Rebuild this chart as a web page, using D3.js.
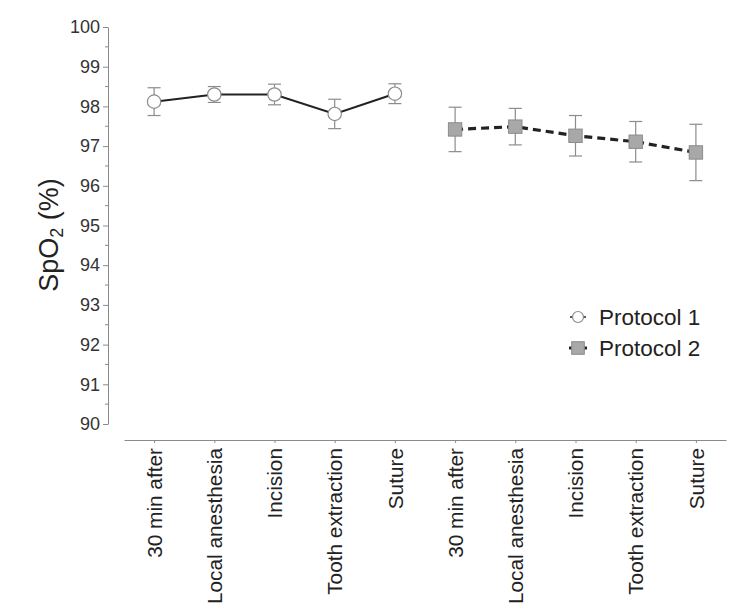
<!DOCTYPE html>
<html>
<head>
<meta charset="utf-8">
<script src="https://cdn.jsdelivr.net/npm/d3@7"></script>
<style>
  html, body { margin: 0; padding: 0; background: #fff; }
  svg { display: block; font-family: "Liberation Sans", Arial, sans-serif; }
</style>
</head>
<body>
<svg id="chart" width="745" height="612"></svg>
<script>
// ---- data ----
const categories = ["30 min after", "Local anesthesia", "Incision", "Tooth extraction", "Suture",
                    "30 min after", "Local anesthesia", "Incision", "Tooth extraction", "Suture"];
const protocol1Idx = [0, 1, 2, 3, 4];
const protocol1 = [98.12, 98.30, 98.30, 97.81, 98.32];
const protocol1Err = [0.35, 0.20, 0.26, 0.37, 0.25];
const protocol2Idx = [5, 6, 7, 8, 9];
const protocol2 = [97.42, 97.49, 97.26, 97.11, 96.84];
const protocol2Err = [0.56, 0.46, 0.51, 0.51, 0.71];
const yTicks = [90, 91, 92, 93, 94, 95, 96, 97, 98, 99, 100];
const yMinorTicks = [90.5, 91.5, 92.5, 93.5, 94.5, 95.5, 96.5, 97.5, 98.5, 99.5];
const seriesNames = ["Protocol 1", "Protocol 2"];

// ---- layout ----
const svg = d3.select("#chart");
const axisColor = "#8a8a8a";
const textColor = "#222";

const x = d3.scalePoint().domain(d3.range(categories.length)).range([124, 726]).padding(0.5);
const y = d3.scaleLinear().domain([90, 100]).range([424, 27]);
const yAxisX = 108;
const xAxisY = 440;

// Y axis
const yAxis = svg.append("g").attr("transform", `translate(${yAxisX},0)`)
  .call(d3.axisLeft(y).tickValues(yTicks).tickSize(5).tickSizeOuter(0).tickPadding(3).tickFormat(d3.format("d")));
yAxis.select(".domain").attr("stroke", axisColor);
yAxis.selectAll(".tick line").attr("stroke", axisColor);
yAxis.selectAll(".tick text").attr("fill", "#333").style("font-size", "18px");
yAxis.selectAll(".minor").data(yMinorTicks).enter().append("line")
  .attr("class", "minor").attr("x1", -3).attr("x2", 0)
  .attr("y1", d => y(d)).attr("y2", d => y(d)).attr("stroke", axisColor);

// X axis
const xAxis = svg.append("g").attr("transform", `translate(0,${xAxisY})`)
  .call(d3.axisBottom(x).tickSize(3).tickSizeOuter(0).tickFormat(i => categories[i]));
xAxis.select(".domain").attr("stroke", axisColor);
xAxis.selectAll(".tick line").attr("stroke", axisColor);
xAxis.selectAll(".tick text")
  .attr("transform", "rotate(-90)")
  .attr("x", -8).attr("y", 0).attr("dy", "0.35em")
  .attr("text-anchor", "end")
  .attr("fill", textColor)
  .style("font-size", "20.8px");

// Y title
const yt = svg.append("text")
  .attr("transform", "translate(58,235) rotate(-90)")
  .attr("text-anchor", "middle")
  .attr("fill", textColor)
  .style("font-size", "27px");
yt.append("tspan").text("SpO");
yt.append("tspan").text("2").attr("dy", "0.3em").style("font-size", "18px");
yt.append("tspan").text(" (%)").attr("dy", "-0.2em");

// ---- series ----
function series(idx, vals, errs) {
  return idx.map((i, k) => ({ i, v: vals[k], e: errs[k] }));
}
const s1 = series(protocol1Idx, protocol1, protocol1Err);
const s2 = series(protocol2Idx, protocol2, protocol2Err);

const errColor = "#8c8c8c";
function drawErr(data) {
  const g = svg.append("g").attr("stroke", errColor).attr("stroke-width", 1.2);
  data.forEach(d => {
    g.append("line").attr("x1", x(d.i)).attr("x2", x(d.i)).attr("y1", y(d.v + d.e)).attr("y2", y(d.v - d.e));
    g.append("line").attr("x1", x(d.i) - 6.5).attr("x2", x(d.i) + 6.5).attr("y1", y(d.v + d.e)).attr("y2", y(d.v + d.e));
    g.append("line").attr("x1", x(d.i) - 6.5).attr("x2", x(d.i) + 6.5).attr("y1", y(d.v - d.e)).attr("y2", y(d.v - d.e));
  });
}
drawErr(s1);
drawErr(s2);

const line = d3.line().x(d => x(d.i)).y(d => y(d.v));
svg.append("path").datum(s1).attr("d", line).attr("fill", "none")
  .attr("stroke", "#222").attr("stroke-width", 2);
svg.append("path").datum(s2).attr("d", line).attr("fill", "none")
  .attr("stroke", "#222").attr("stroke-width", 3.2).attr("stroke-dasharray", "8,5");

svg.append("g").selectAll("circle").data(s1).enter().append("circle")
  .attr("cx", d => x(d.i)).attr("cy", d => y(d.v)).attr("r", 6.7)
  .attr("fill", "#fff").attr("stroke", "#8c8c8c").attr("stroke-width", 1.2);
svg.append("g").selectAll("rect").data(s2).enter().append("rect")
  .attr("x", d => x(d.i) - 6.7).attr("y", d => y(d.v) - 6.7).attr("width", 13.4).attr("height", 13.4)
  .attr("fill", "#a8a8a8").attr("stroke", "#8c8c8c").attr("stroke-width", 1);

// ---- legend ----
const lg = svg.append("g").attr("transform", "translate(578,317)");
lg.append("line").attr("x1", -8).attr("x2", 8).attr("y1", 0).attr("y2", 0).attr("stroke", "#222").attr("stroke-width", 1.5);
lg.append("circle").attr("r", 5.5).attr("fill", "#fff").attr("stroke", "#8c8c8c").attr("stroke-width", 1.2);
lg.append("text").attr("x", 21).attr("y", 0).attr("dy", "0.36em").attr("fill", textColor)
  .style("font-size", "22.5px").text(seriesNames[0]);
const lg2 = svg.append("g").attr("transform", "translate(578,348)");
lg2.append("line").attr("x1", -9).attr("x2", 9).attr("y1", 0).attr("y2", 0).attr("stroke", "#222").attr("stroke-width", 3);
lg2.append("rect").attr("x", -6.3).attr("y", -6.3).attr("width", 12.6).attr("height", 12.6)
  .attr("fill", "#a8a8a8").attr("stroke", "#8c8c8c").attr("stroke-width", 1);
lg2.append("text").attr("x", 21).attr("y", 0).attr("dy", "0.36em").attr("fill", textColor)
  .style("font-size", "22.5px").text(seriesNames[1]);
</script>
</body>
</html>
